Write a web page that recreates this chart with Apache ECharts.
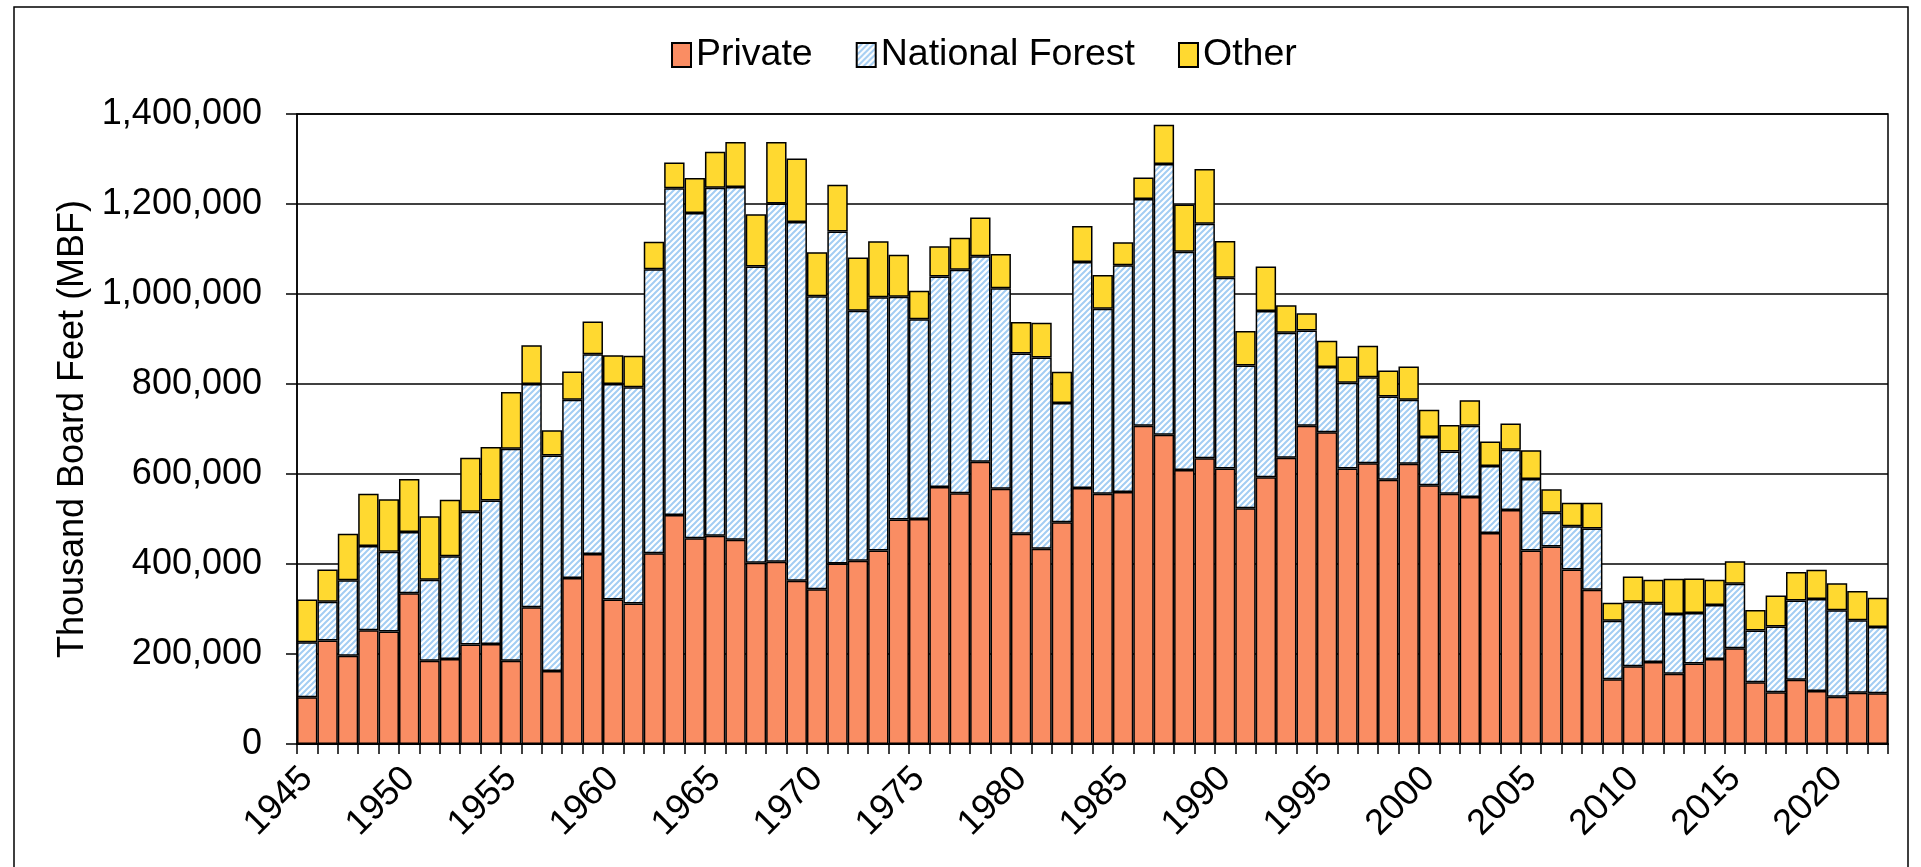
<!DOCTYPE html>
<html>
<head>
<meta charset="utf-8">
<script src="https://cdn.jsdelivr.net/npm/echarts@6/dist/echarts.min.js"></script>
<style>
  html, body { margin: 0; padding: 0; background: #fff; }
  #myChart { width: 1921px; height: 867px; }
</style>
</head>
<body>
<div id="myChart"></div>
<script>
// years on the x axis
const years = [];
for (let y = 1945; y <= 2022; y++) years.push(String(y));

// harvest volume, MBF
const privateData = [
  104000, 230000, 196000, 253000, 250000, 335000, 185000, 189000, 221000, 222000,
  185000, 304000, 162000, 369000, 422000, 321000, 312000, 424000, 509000, 457000,
  463000, 454000, 403000, 405000, 363000, 344000, 401000, 407000, 430000, 499000,
  500000, 571000, 557000, 627000, 567000, 467000, 434000, 493000, 569000, 556000,
  560000, 707000, 687000, 609000, 635000, 612000, 524000, 593000, 636000, 707000,
  693000, 612000, 624000, 587000, 623000, 575000, 556000, 549000, 469000, 520000,
  430000, 439000, 388000, 343000, 144000, 173000, 182000, 156000, 179000, 189000,
  213000, 137000, 115000, 143000, 118000, 105000, 114000, 113000
];
const nationalForestData = [
  122000, 86000, 168000, 187000, 177000, 136000, 180000, 228000, 295000, 319000,
  471000, 496000, 479000, 396000, 444000, 479000, 481000, 631000, 726000, 723000,
  773000, 784000, 658000, 796000, 797000, 651000, 738000, 556000, 563000, 495000,
  444000, 468000, 497000, 457000, 446000, 401000, 425000, 265000, 502000, 411000,
  504000, 504000, 602000, 485000, 521000, 424000, 317000, 369000, 278000, 212000,
  145000, 191000, 191000, 185000, 142000, 107000, 94000, 158000, 149000, 134000,
  159000, 75000, 96000, 136000, 130000, 143000, 131000, 133000, 112000, 120000,
  143000, 115000, 146000, 176000, 204000, 192000, 161000, 147000
];
const otherData = [
  95000, 72000, 103000, 116000, 117000, 118000, 141000, 126000, 120000, 119000,
  126000, 86000, 56000, 63000, 73000, 64000, 70000, 61000, 57000, 78000,
  80000, 100000, 116000, 137000, 141000, 98000, 104000, 118000, 124000, 93000,
  63000, 67000, 71000, 86000, 76000, 70000, 77000, 69000, 80000, 75000,
  51000, 48000, 87000, 105000, 122000, 82000, 77000, 99000, 61000, 38000,
  58000, 58000, 70000, 58000, 74000, 61000, 59000, 57000, 54000, 58000,
  64000, 52000, 52000, 57000, 40000, 56000, 52000, 78000, 77000, 56000,
  50000, 46000, 69000, 63000, 65000, 60000, 65000, 65000
];

// hatched fill for National Forest
function makeHatch() {
  const c = document.createElement('canvas');
  c.width = 6; c.height = 6;
  const ctx = c.getContext('2d');
  ctx.fillStyle = '#ffffff';
  ctx.fillRect(0, 0, 6, 6);
  ctx.strokeStyle = '#a3cdf3';
  ctx.lineWidth = 2;
  ctx.beginPath();
  ctx.moveTo(0, 6); ctx.lineTo(6, 0);
  ctx.moveTo(-1, 1); ctx.lineTo(1, -1);
  ctx.moveTo(5, 7); ctx.lineTo(7, 5);
  ctx.stroke();
  return c;
}

const font = 'Liberation Sans, Arial, sans-serif';
const myChart = echarts.init(document.getElementById('myChart'));

const barStyle = (color) => ({
  color: color,
  borderColor: '#000',
  borderWidth: 1.5
});

myChart.setOption({
  animation: false,
  textStyle: { fontFamily: font },
  graphic: [{
    type: 'rect',
    shape: { x: 14, y: 7, width: 1894, height: 900 },
    style: { fill: 'none', stroke: '#000', lineWidth: 1.5 },
    silent: true
  }],
  legend: {
    left: 666,
    top: 31,
    icon: 'rect',
    itemWidth: 19,
    itemHeight: 24,
    itemGap: 43,
    textStyle: { fontSize: 37.5, color: '#000', fontFamily: font },
    data: ['Private', 'National Forest', 'Other']
  },
  grid: {
    left: 297,
    right: 33,
    top: 114,
    bottom: 123,
    show: true,
    borderColor: '#000',
    borderWidth: 1.5
  },
  xAxis: {
    type: 'category',
    data: years,
    axisLine: { lineStyle: { color: '#000', width: 2 } },
    axisTick: { show: true, interval: 0, length: 10, lineStyle: { color: '#000', width: 1.5 } },
    axisLabel: {
      interval: 4,
      rotate: 45,
      margin: 29,
      fontSize: 36,
      color: '#000',
      fontFamily: font
    }
  },
  yAxis: {
    type: 'value',
    min: 0,
    max: 1400000,
    interval: 200000,
    name: 'Thousand Board Feet (MBF)',
    nameLocation: 'middle',
    nameGap: 205,
    nameTextStyle: { fontSize: 36, color: '#000', fontFamily: font },
    axisLine: { show: true, lineStyle: { color: '#000', width: 1.5 } },
    axisTick: { show: true, length: 11, lineStyle: { color: '#000', width: 1.5 } },
    axisLabel: {
      margin: 35,
      fontSize: 36,
      color: '#000',
      fontFamily: font,
      formatter: (v) => v.toLocaleString('en-US')
    },
    splitLine: { lineStyle: { color: '#000', width: 1.5 } }
  },
  series: [
    {
      name: 'Private',
      type: 'bar',
      stack: 'total',
      barCategoryGap: '0%',
      itemStyle: barStyle('#fa8d63'),
      data: privateData
    },
    {
      name: 'National Forest',
      type: 'bar',
      stack: 'total',
      barCategoryGap: '0%',
      itemStyle: barStyle({ image: makeHatch(), repeat: 'repeat' }),
      data: nationalForestData
    },
    {
      name: 'Other',
      type: 'bar',
      stack: 'total',
      barCategoryGap: '0%',
      itemStyle: barStyle('#ffd930'),
      data: otherData
    }
  ]
});
</script>
</body>
</html>
